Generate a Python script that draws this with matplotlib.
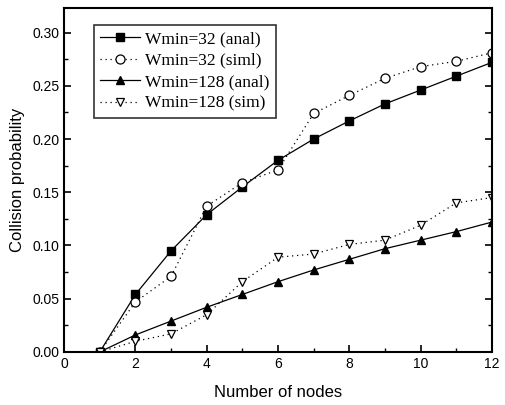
import matplotlib
matplotlib.use("Agg")
import matplotlib.pyplot as plt
from matplotlib.ticker import MultipleLocator

nodes = [1, 2, 3, 4, 5, 6, 7, 8, 9, 10, 11, 12]
w32_anal = [0.000, 0.054, 0.095, 0.129, 0.155, 0.180, 0.200, 0.217, 0.233, 0.246, 0.259, 0.272]
w32_sim = [0.000, 0.047, 0.071, 0.137, 0.159, 0.171, 0.224, 0.241, 0.257, 0.268, 0.273, 0.281]
w128_anal = [0.000, 0.016, 0.029, 0.042, 0.054, 0.066, 0.077, 0.087, 0.097, 0.105, 0.113, 0.122]
w128_sim = [0.000, 0.010, 0.017, 0.035, 0.066, 0.089, 0.092, 0.101, 0.105, 0.119, 0.140, 0.145]
labels = ["Wmin=32 (anal)", "Wmin=32 (siml)", "Wmin=128 (anal)", "Wmin=128 (sim)"]

fig = plt.figure(figsize=(5.05, 4.05), dpi=100)
ax = fig.add_axes([0.127, 0.131, 0.847, 0.849])

ax.plot(nodes, w32_anal, color="black", lw=0.9, ls="-", marker="s", ms=5.5,
        mfc="black", mec="black", label=labels[0])
ax.plot(nodes, w32_sim, color="black", lw=0.9, ls=(0, (1, 3)), marker="o", ms=6.5,
        mfc="white", mec="black", mew=0.9, label=labels[1])
ax.plot(nodes, w128_anal, color="black", lw=0.9, ls="-", marker="^", ms=6,
        mfc="black", mec="black", label=labels[2])
ax.plot(nodes, w128_sim, color="black", lw=0.9, ls=(0, (1, 3)), marker="v", ms=6,
        mfc="white", mec="black", mew=0.9, label=labels[3])

ax.set_xlim(0, 12)
ax.set_ylim(0, 0.323)
ax.xaxis.set_major_locator(MultipleLocator(2))
ax.xaxis.set_minor_locator(MultipleLocator(1))
ax.yaxis.set_major_locator(MultipleLocator(0.05))
ax.yaxis.set_minor_locator(MultipleLocator(0.025))
ax.yaxis.set_major_formatter(plt.FuncFormatter(lambda v, p: f"{v:.2f}"))
ax.tick_params(which="both", direction="in", top=False, right=True, labelright=False)
ax.tick_params(which="major", length=5, width=1.2, labelsize=10)
ax.tick_params(which="minor", length=3, width=1.0)
for lab in ax.get_xticklabels() + ax.get_yticklabels():
    lab.set_family("Liberation Sans")
for s in ax.spines.values():
    s.set_linewidth(1.5)

ax.set_xlabel("Number of nodes", family="Liberation Sans", fontsize=12, labelpad=10)
ax.set_ylabel("Collision probability", family="Liberation Sans", fontsize=12, labelpad=5)

leg = ax.legend(loc="upper left", bbox_to_anchor=(0.07, 0.95), frameon=True,
                fancybox=False, edgecolor="black", prop={"family": "Liberation Serif", "size": 12.5},
                handlelength=2.3, handletextpad=0.3, borderpad=0.35, labelspacing=0.3,
                borderaxespad=0)
leg.get_frame().set_linewidth(1.2)

fig.savefig("out.png", dpi=100)
